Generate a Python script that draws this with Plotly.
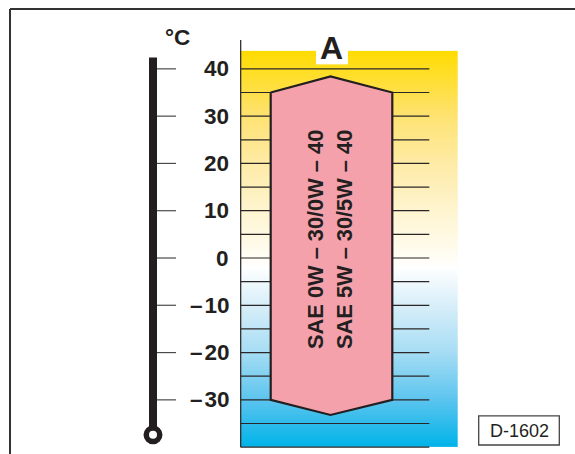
import numpy as np
import plotly.graph_objects as go

# ---- data (°C) ----
thermo_ticks = [40, 30, 20, 10, 0, -10, -20, -30]
thermo_labels = ["40", "30", "20", "10", "0", "\u2013\u200a10", "\u2013\u200a20", "\u2013\u200a30"]
grid_temps = list(range(-40, 45, 5))
oil_high = 35        # upper shoulder of the SAE band
oil_high_peak = 38.4  # upper apex
oil_low = -30        # lower shoulder
oil_low_peak = -33.2  # lower apex
oil_labels = ["SAE 0W \u2013 30/0W \u2013 40", "SAE 5W \u2013 30/5W \u2013 40"]
box_top, box_bottom = 43.8, -40
thermo_top, thermo_bottom = 42.4, -37.4
axis_top = 46.1
code_label = "D-1602"

# gradient stops (temperature, colour)
grad_temps = [-40, -30, -20, -10, -2, 0, 10, 20, 30, 43.8]
grad_colors = ["#00B3E9", "#5CC4EE", "#A6DDF4", "#D8EEF9", "#FFFFFF", "#FFFDF4",
               "#FEF4CF", "#FEEBA6", "#FEE272", "#FFDC00"]

# ---- layout geometry (pixels along x) ----
BOX_L, BOX_R = 240.7, 458.0
GRID_R = 429.3
BAND_L, BAND_R = 270.7, 392.3
BAND_MID = (BAND_L + BAND_R) / 2 - 1
THERMO_X = 153
TICK_L, TICK_R = 157, 176
LABEL_X = 231

fig = go.Figure()

# gradient background
edges = np.linspace(box_bottom, box_top, 301)
centers = (edges[:-1] + edges[1:]) / 2
zmin, zmax = grad_temps[0], grad_temps[-1]
cscale = [[(t - zmin) / (zmax - zmin), c] for t, c in zip(grad_temps, grad_colors)]
fig.add_trace(go.Heatmap(
    x=[BOX_L, BOX_R], y=edges, z=[[v] for v in centers],
    colorscale=cscale, zmin=zmin, zmax=zmax, showscale=False, hoverinfo="skip"))

# grid lines
gx, gy = [], []
for t in grid_temps:
    gx += [BOX_L, GRID_R, None]
    gy += [t, t, None]
fig.add_trace(go.Scatter(x=gx, y=gy, mode="lines", line=dict(color="#2a2627", width=1.2), hoverinfo="skip"))

# vertical axis line
fig.add_trace(go.Scatter(x=[BOX_L, BOX_L], y=[axis_top, box_bottom], mode="lines",
                         line=dict(color="#231F20", width=1.2), hoverinfo="skip"))

# SAE band polygon
px = [BAND_L, BAND_MID, BAND_R, BAND_R, BAND_MID, BAND_L, BAND_L]
py = [oil_high, oil_high_peak, oil_high, oil_low, oil_low_peak, oil_low, oil_high]
fig.add_trace(go.Scatter(x=px, y=py, mode="lines", fill="toself", fillcolor="#F4A1AB",
                         line=dict(color="#231F20", width=2.2), hoverinfo="skip"))

# thermometer
fig.add_trace(go.Scatter(x=[THERMO_X, THERMO_X], y=[thermo_top, thermo_bottom], mode="lines",
                         line=dict(color="#231F20", width=8), hoverinfo="skip"))
fig.add_trace(go.Scatter(x=[THERMO_X], y=[thermo_bottom], mode="markers",
                         marker=dict(symbol="circle", size=13.5, color="white",
                                     line=dict(color="#231F20", width=5.5)), hoverinfo="skip"))
tx, ty = [], []
for t in thermo_ticks:
    tx += [TICK_L, TICK_R, None]
    ty += [t, t, None]
fig.add_trace(go.Scatter(x=tx, y=ty, mode="lines", line=dict(color="#4a4a4a", width=1.2), hoverinfo="skip"))

font_main = "Liberation Sans, Arial, sans-serif"
annotations = []
for t, lab in zip(thermo_ticks, thermo_labels):
    annotations.append(dict(x=LABEL_X, y=t, text="<b>%s</b>" % lab, showarrow=False,
                            xanchor="right", yanchor="middle",
                            font=dict(family=font_main, size=22.5, color="#231F20")))
annotations.append(dict(x=177.5, y=46.6, text="<b>\u00b0C</b>", showarrow=False,
                        xanchor="center", yanchor="middle",
                        font=dict(family=font_main, size=22.5, color="#231F20")))
annotations.append(dict(x=331.5, y=44.4, text="<b>A</b>", showarrow=False,
                        xanchor="center", yanchor="middle",
                        font=dict(family=font_main, size=32, color="#231F20")))
annotations.append(dict(x=330.2, y=3.85, text="<br>".join("<b>%s</b>" % s for s in oil_labels),
                        showarrow=False, textangle=-90, xanchor="center", yanchor="middle",
                        font=dict(family=font_main, size=21.8, color="#231F20")))
annotations.append(dict(x=519, y=-36.65, text=code_label, showarrow=False,
                        xanchor="center", yanchor="middle",
                        font=dict(family=font_main, size=18, color="#231F20")))

shapes = [
    # white patch behind "A"
    dict(type="rect", xref="x", yref="y", x0=316, x1=348, y0=40.95, y1=box_top + 0.1,
         fillcolor="white", line=dict(width=0), layer="above"),
    # code box
    dict(type="rect", xref="x", yref="y", x0=478.7, x1=559.3, y0=-39.55, y1=-33.4,
         fillcolor="white", line=dict(color="#444", width=1.3), layer="above"),
    # outer frame
    dict(type="line", xref="paper", yref="paper", x0=10 / 575, x1=1.05, y0=1 - 9 / 454, y1=1 - 9 / 454,
         line=dict(color="#333", width=2)),
    dict(type="line", xref="paper", yref="paper", x0=10 / 575, x1=10 / 575, y0=1 - 9 / 454, y1=-0.05,
         line=dict(color="#333", width=2)),
]

fig.update_layout(
    width=575, height=454, margin=dict(l=0, r=0, t=0, b=0),
    paper_bgcolor="white", plot_bgcolor="white", showlegend=False,
    xaxis=dict(range=[0, 575], visible=False, fixedrange=True),
    yaxis=dict(range=[-41.45, 54.56], visible=False, fixedrange=True),
    annotations=annotations, shapes=shapes,
)
fig.write_html("out.html", config={"displayModeBar": False},
               post_script="document.body.style.margin='0px';document.body.style.overflow='hidden';")
